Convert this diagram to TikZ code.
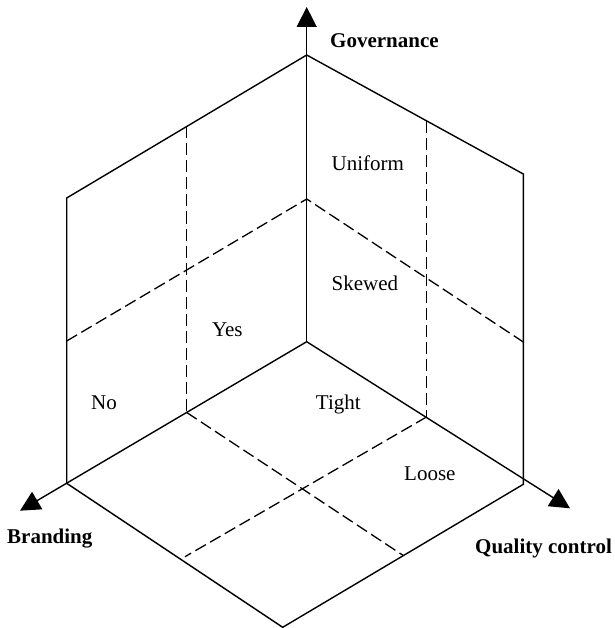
\documentclass[tikz,border=0pt]{standalone}
\usepackage{fontspec}
\setmainfont{Liberation Serif}
\usetikzlibrary{arrows.meta}
\begin{document}
\begin{tikzpicture}[x=1pt,y=-1pt,
  edge/.style={line width=1.4pt,line join=miter},
  dline/.style={line width=1.3pt,dash pattern=on 12pt off 5pt},
  axisline/.style={line width=1.4pt,-{Triangle[length=20pt,width=20pt]}},
  lbl/.style={anchor=base west,inner sep=0pt,font=\fontsize{21}{25}\selectfont},
  blbl/.style={lbl,font=\fontsize{21}{25}\selectfont\bfseries}]
\useasboundingbox (0,0) rectangle (614,628);
% points
\coordinate (O) at (306.7,341.7);
\coordinate (T) at (306.7,55);
\coordinate (Ttip) at (306.7,7);
\coordinate (L) at (66.7,483.3);
\coordinate (Ltip) at (20,510.7);
\coordinate (Rtip) at (570,508.3);
\coordinate (R) at (523.3,484.3);
\coordinate (B) at (282.7,627.3);
\coordinate (LT) at (66.7,198);
\coordinate (RT) at (523.3,174);
\coordinate (M) at (306.7,199);
\coordinate (LM) at (66.7,341);
\coordinate (RM) at (523.3,342);
\coordinate (LDt) at (186.7,126.5);
\coordinate (LDb) at (186.7,412.5);
\coordinate (RDt) at (426.5,121);
\coordinate (RDb) at (426.5,417);
\coordinate (FD1) at (403.3,555.5);
\coordinate (FD2) at (185,556.7);
% axes
\draw[axisline] (O) -- (Ttip);
\draw[axisline] (O) -- (Ltip);
\draw[axisline] (O) -- (Rtip);
% solid edges
\draw[edge] (L) -- (LT) -- (T) -- (RT) -- (R) -- (B) -- (L);
% dashed lines
\draw[dline] (LM) -- (M) -- (RM);
\draw[dline] (LDt) -- (LDb);
\draw[dline] (RDt) -- (RDb);
\draw[dline] (LDb) -- (FD1);
\draw[dline] (RDb) -- (FD2);
% labels
\node[blbl] (gov) at (330,47.3) {Governance};
\node[blbl] (bra) at (7,543.5) {Branding};
\node[blbl] (qc) at (475,553) {Quality control};
\node[lbl] (uni) at (331.4,170.7) {Uniform};
\node[lbl] (ske) at (331.4,290.7) {Skewed};
\node[lbl] (yes) at (211.8,336.7) {Yes};
\node[lbl] (no) at (91,409) {No};
\node[lbl] (tig) at (315.7,409.3) {Tight};
\node[lbl] (loo) at (404,480.7) {Loose};
\end{tikzpicture}
\end{document}
